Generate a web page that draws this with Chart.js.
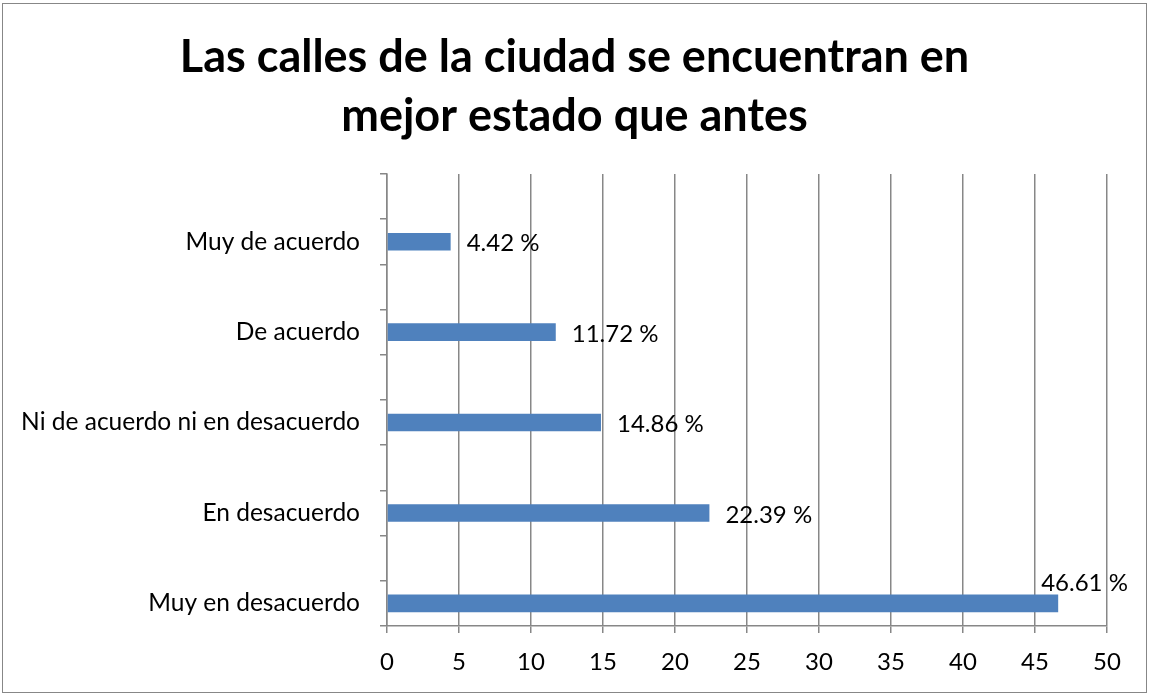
<!DOCTYPE html>
<html>
<head>
<meta charset="utf-8">
<script src="https://cdn.jsdelivr.net/npm/chart.js@4"></script>
<style>
  html, body { margin: 0; padding: 0; background: #fff; }
  #wrap { position: relative; width: 1149px; height: 694px; }
  #frame {
    position: absolute; left: 2px; top: 3px; width: 1143px; height: 688px;
    border: 1px solid #878787; pointer-events: none;
  }
</style>
</head>
<body>
<div id="wrap">
  <canvas id="myChart" width="1149" height="694"></canvas>
  <div id="frame"></div>
</div>
<script>
const categories = [
  "Muy de acuerdo",
  "De acuerdo",
  "Ni de acuerdo ni en desacuerdo",
  "En desacuerdo",
  "Muy en desacuerdo",
];

const values = [4.42, 11.72, 14.86, 22.39, 46.61];

const xTicks = [0, 5, 10, 15, 20, 25, 30, 35, 40, 45, 50];

// each category sits in the lower of two slots, like the original sheet
const labels = categories.flatMap((c) => ["", c]);
const data = values.flatMap((v) => [null, v]);

const gridGray = "#878787";
const barBlue = "#4f81bd";
const font = "Lato";

const barLabels = {
  id: "barLabels",
  // let the long category names use the left margin too
  afterLayout(chart) {
    chart.scales.y.left = 0;
  },
  afterDatasetsDraw(chart) {
    const ctx = chart.ctx;
    const meta = chart.getDatasetMeta(0);
    ctx.save();
    ctx.font = "24px " + font;
    ctx.fillStyle = "#000";
    ctx.textBaseline = "middle";
    meta.data.forEach((bar, i) => {
      const v = data[i];
      if (v == null) return;
      const text = v.toFixed(2) + " %";
      const w = ctx.measureText(text).width;
      let x = bar.x + 16;
      let y = bar.y + 2;
      if (x + w > chart.chartArea.right) {
        x = bar.x - 17;
        y = bar.y - 20;
      }
      ctx.fillText(text, x, y);
    });
    ctx.restore();
  },
};

const myChart = new Chart(document.getElementById("myChart"), {
  type: "bar",
  data: {
    labels: labels,
    datasets: [
      {
        data: data,
        backgroundColor: barBlue,
        barPercentage: 0.39,
        categoryPercentage: 1.0,
      },
    ],
  },
  options: {
    indexAxis: "y",
    responsive: false,
    animation: false,
    layout: {
      padding: { left: 42, right: 42, top: 0, bottom: 0 },
    },
    plugins: {
      legend: { display: false },
      tooltip: { enabled: false },
      title: {
        display: true,
        text: ["Las calles de la ciudad se encuentran en", "mejor estado que antes"],
        color: "#000",
        font: { family: font, size: 45, weight: "bold", lineHeight: 1.31 },
        padding: { top: 28, bottom: 28 },
      },
    },
    scales: {
      x: {
        type: "linear",
        min: 0,
        max: 50,
        afterBuildTicks: (scale) => {
          scale.ticks = xTicks.map((v) => ({ value: v }));
        },
        afterFit: (scale) => {
          scale.height = 68;
        },
        grid: {
          color: gridGray,
          lineWidth: 1.5,
          tickLength: 7,
        },
        border: { color: gridGray, width: 1.5 },
        ticks: {
          color: "#000",
          padding: 15,
          font: { family: font, size: 24 },
        },
      },
      y: {
        type: "category",
        afterFit: (scale) => {
          scale.width = 345;
        },
        grid: {
          offset: true,
          drawOnChartArea: false,
          color: gridGray,
          lineWidth: 1.5,
          tickLength: 7,
        },
        border: { color: gridGray, width: 1.5 },
        ticks: {
          autoSkip: false,
          color: "#000",
          padding: 20,
          font: { family: font, size: 24.5 },
        },
      },
    },
  },
  plugins: [barLabels],
});
</script>
</body>
</html>
